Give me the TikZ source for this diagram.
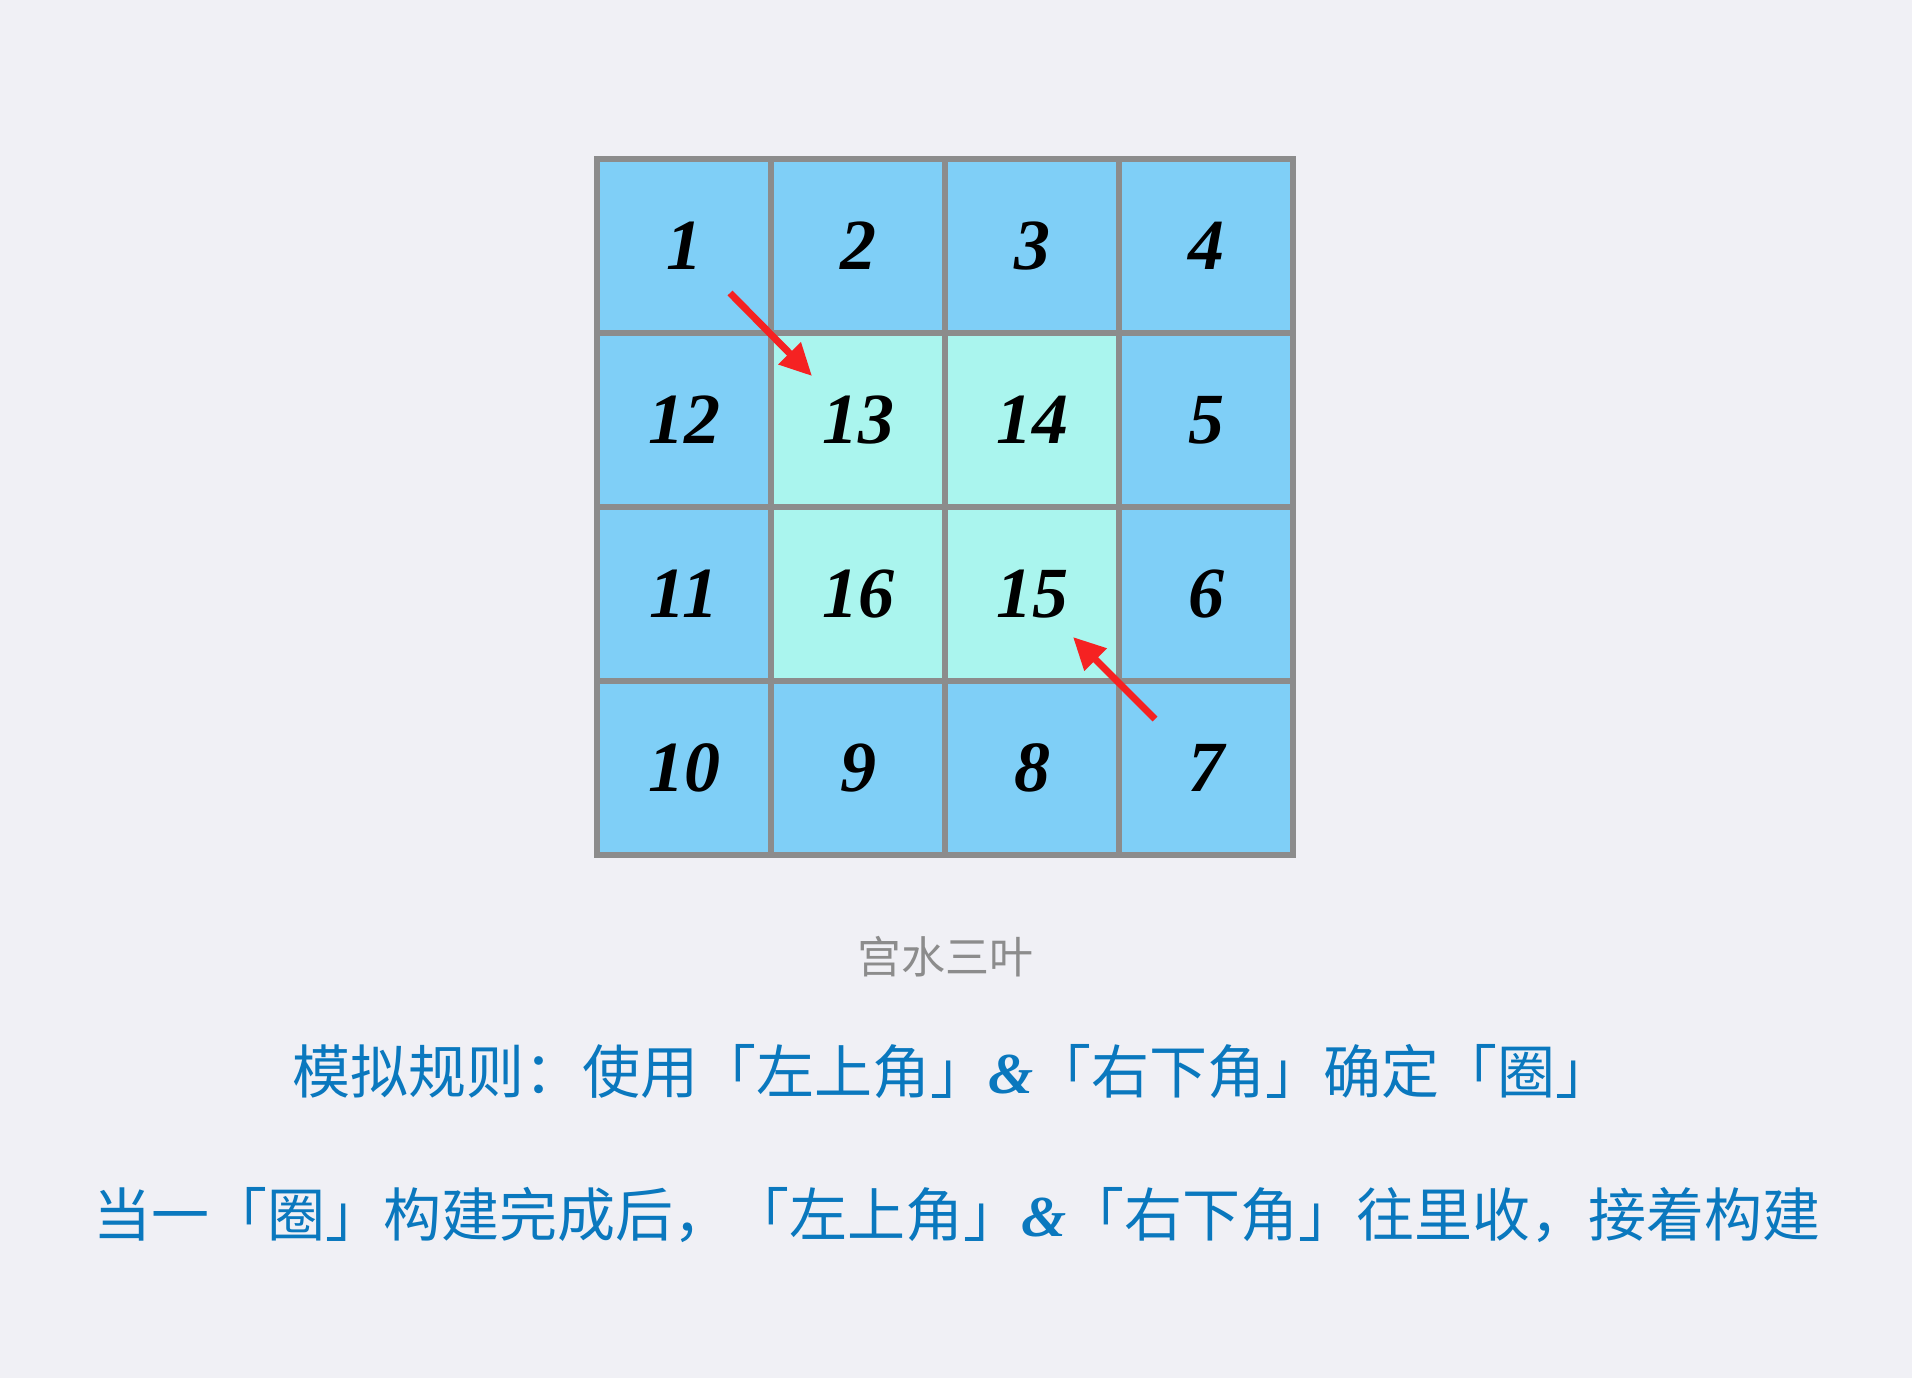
\documentclass[tikz,border=0pt]{standalone}
\usepackage{fontspec}
\setmainfont{Liberation Serif}
\newfontfamily\cjk{Noto Sans CJK SC}
\newfontfamily\numfont{Liberation Serif}
\usetikzlibrary{arrows.meta}
\definecolor{bgc}{HTML}{F0F0F5}
\definecolor{outerc}{HTML}{7FCFF7}
\definecolor{innerc}{HTML}{AAF5EE}
\definecolor{gridc}{HTML}{8C8C8C}
\definecolor{arrowc}{HTML}{F52222}
\definecolor{textc}{HTML}{0A78BE}
\tikzset{
  cellbox/.style={draw=gridc, line width=6pt, minimum size=174pt, inner sep=0pt,
    font=\numfont\bfseries\itshape\fontsize{72}{72}\selectfont},
  outercell/.style={cellbox, fill=outerc},
  innercell/.style={cellbox, fill=innerc},
  redarrow/.style={draw=arrowc, line width=7pt, -{Triangle[length=32pt,width=30pt]}},
  caption/.style={font=\cjk\fontsize{58}{58}\selectfont, text=textc, inner sep=0pt}
}
\newcommand{\ampsym}{{\numfont\bfseries\itshape\&}}
\begin{document}
\begin{tikzpicture}[x=1pt,y=-1pt]
\fill[bgc] (0,0) rectangle (1912,1378);
\useasboundingbox (0,0) rectangle (1912,1378);
% row 0
\node[outercell] (c1) at (684,246) {1};
\node[outercell] (c2) at (858,246) {2};
\node[outercell] (c3) at (1032,246) {3};
\node[outercell] (c4) at (1206,246) {4};
% row 1
\node[outercell] (c12) at (684,420) {12};
\node[innercell] (c13) at (858,420) {13};
\node[innercell] (c14) at (1032,420) {14};
\node[outercell] (c5) at (1206,420) {5};
% row 2
\node[outercell] (c11) at (684,594) {11};
\node[innercell] (c16) at (858,594) {16};
\node[innercell] (c15) at (1032,594) {15};
\node[outercell] (c6) at (1206,594) {6};
% row 3
\node[outercell] (c10) at (684,768) {10};
\node[outercell] (c9) at (858,768) {9};
\node[outercell] (c8) at (1032,768) {8};
\node[outercell] (c7) at (1206,768) {7};
% arrows
\coordinate (a1s) at (730,293);
\coordinate (a1e) at (812,376);
\coordinate (a2s) at (1155,719);
\coordinate (a2e) at (1073,637);
\draw[redarrow] (a1s) -- (a1e);
\draw[redarrow] (a2s) -- (a2e);
% texts
\node[font=\cjk\fontsize{44}{44}\selectfont, text=gridc, inner sep=0pt] (wm) at (945,957) {宫水三叶};
\node[caption] (l1) at (953,1071) {模拟规则：使用「左上角」\ampsym「右下角」确定「圈」};
\node[caption] (l2) at (957,1215) {当一「圈」构建完成后，「左上角」\ampsym「右下角」往里收，接着构建};
\end{tikzpicture}
\end{document}
